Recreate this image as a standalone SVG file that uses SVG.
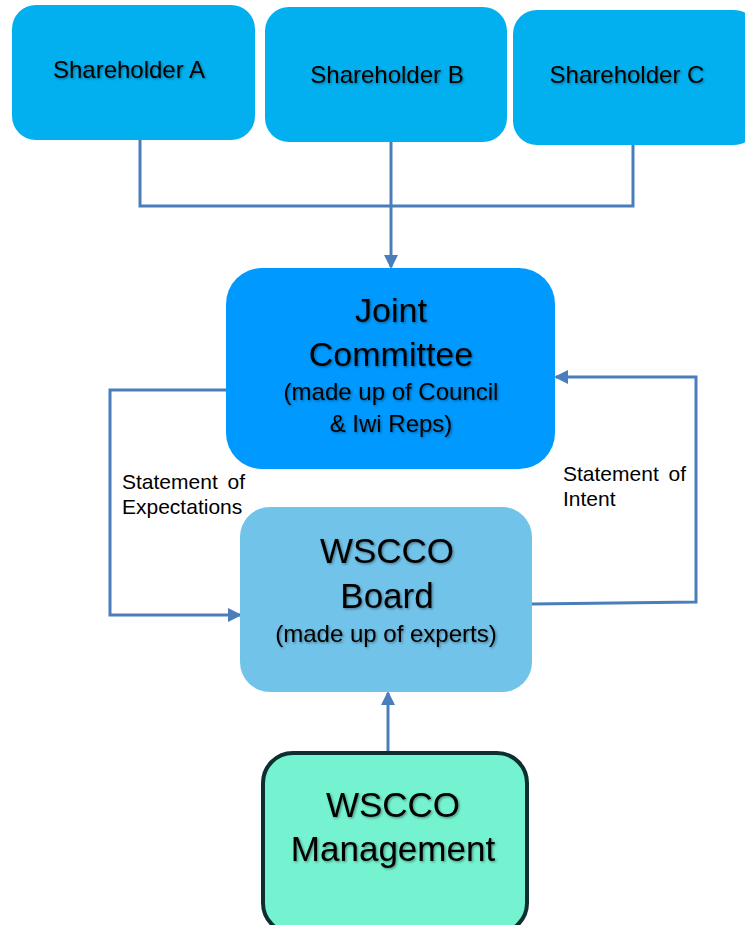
<svg xmlns="http://www.w3.org/2000/svg" width="745" height="925" viewBox="0 0 745 925">
<defs>
<style>
.t{font-family:"Liberation Sans",Arial,sans-serif;fill:#000;text-anchor:middle}
.sh{fill:#02B0F0}
.c{fill:none;stroke:#4A7EBB;stroke-width:3}
.lbl{font-family:"Liberation Sans",Arial,sans-serif;font-size:21px;fill:#000}
</style>
<marker id="ah" markerWidth="14" markerHeight="14" refX="12" refY="7" orient="auto" markerUnits="userSpaceOnUse" viewBox="0 0 14 14">
<path d="M0,0 L14,7 L0,14 z" fill="#4A7EBB"/>
</marker>
<filter id="ts" x="-5%" y="-5%" width="110%" height="120%">
<feDropShadow dx="1.2" dy="1.2" stdDeviation="0.9" flood-color="#000" flood-opacity="0.4"/>
</filter>
</defs>
<rect width="745" height="925" fill="#fff"/>
<g id="connectors">
<path class="c" d="M140,140 V206 H633 V145"/>
<path class="c" d="M391,142 V267" marker-end="url(#ah)"/>
<path class="c" d="M226,390 H110 V615 H240" marker-end="url(#ah)"/>
<path class="c" d="M532,604 L696,602 V377 H556" marker-end="url(#ah)"/>
<path class="c" d="M388,752 V693" marker-end="url(#ah)"/>
</g>
<g id="shareholder-a">
<rect class="sh" x="12" y="5" width="243" height="135" rx="24"/>
<text class="t" x="129" y="78" font-size="24" filter="url(#ts)">Shareholder A</text>
</g>
<g id="shareholder-b">
<rect class="sh" x="265" y="7" width="242" height="135" rx="24"/>
<text class="t" x="387" y="83" font-size="24" filter="url(#ts)">Shareholder B</text>
</g>
<g id="shareholder-c">
<rect class="sh" x="513" y="10" width="245" height="135" rx="24"/>
<text class="t" x="627" y="83" font-size="24" filter="url(#ts)">Shareholder C</text>
</g>
<g id="joint-committee">
<rect x="226" y="268" width="329" height="201" rx="36" fill="#0099FF"/>
<g filter="url(#ts)">
<text class="t" x="391" y="322" font-size="34">Joint</text>
<text class="t" x="391" y="366" font-size="34">Committee</text>
<text class="t" x="391" y="400" font-size="24">(made up of Council</text>
<text class="t" x="391" y="432" font-size="24">&amp; Iwi Reps)</text>
</g>
</g>
<g id="wscco-board">
<rect x="240" y="507" width="292" height="185" rx="30" fill="#71C3EA"/>
<g filter="url(#ts)">
<text class="t" x="387" y="563" font-size="35">WSCCO</text>
<text class="t" x="387" y="608" font-size="35">Board</text>
<text class="t" x="386" y="642" font-size="24">(made up of experts)</text>
</g>
</g>
<g id="wscco-management">
<rect x="263" y="753" width="264" height="180" rx="30" fill="#75F2D0" stroke="#0E2F30" stroke-width="4"/>
<g filter="url(#ts)">
<text class="t" x="393" y="817" font-size="35">WSCCO</text>
<text class="t" x="393" y="861" font-size="35">Management</text>
</g>
</g>
<g id="labels">
<text class="lbl" x="122" y="489" word-spacing="4">Statement of</text>
<text class="lbl" x="122" y="514">Expectations</text>
<text class="lbl" x="563" y="481" word-spacing="4">Statement of</text>
<text class="lbl" x="563" y="506">Intent</text>
</g>
</svg>
